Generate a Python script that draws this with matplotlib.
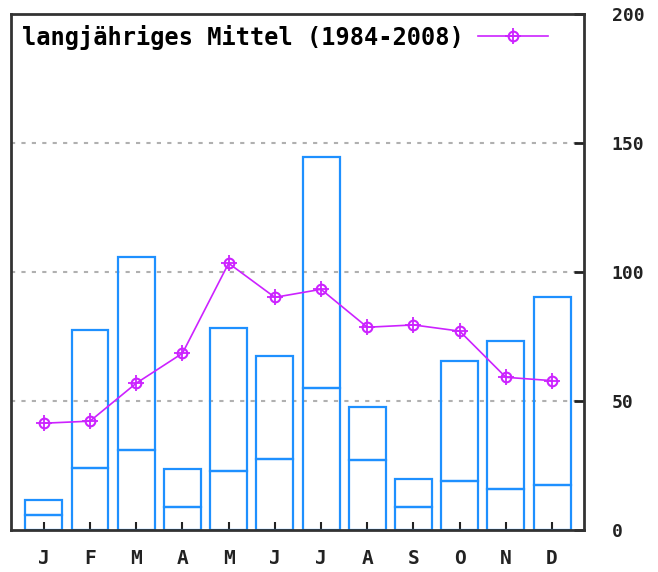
import numpy as np
import matplotlib.pyplot as plt
from matplotlib.legend_handler import HandlerTuple

months = ['J', 'F', 'M', 'A', 'M', 'J', 'J', 'A', 'S', 'O', 'N', 'D']
# Balken: unterer Anteil und Gesamthöhe
lower = [6, 24, 31, 9, 23, 27.5, 55, 27, 9, 19, 16, 17.5]
total = [11.5, 77.7, 105.7, 23.8, 78.5, 67.6, 144.5, 47.8, 19.9, 65.4, 73.1, 90.2]
# langjähriges Mittel
mittel = [41.4, 42.2, 56.9, 68.5, 103.4, 90.2, 93.3, 78.6, 79.5, 77.1, 59.2, 57.9]

blue = '#1e90ff'
purple = '#cc22ff'
font = {'family': 'DejaVu Sans Mono', 'weight': 'bold'}

fig = plt.figure(figsize=(6.58, 5.72), dpi=100)
ax = fig.add_axes([0.0167, 0.0734, 0.8708, 0.902])

x = np.arange(len(months))
upper = np.array(total) - np.array(lower)
ax.bar(x, lower, width=0.8, fill=False, edgecolor=blue, lw=1.6, zorder=2)
ax.bar(x, upper, bottom=lower, width=0.8, fill=False, edgecolor=blue, lw=1.6, zorder=2)

l1, = ax.plot(x, mittel, color=purple, lw=1.2, marker='o', ms=7, mfc='none',
              mec=purple, mew=1.5, zorder=3)
l2, = ax.plot(x, mittel, ls='none', marker='+', ms=11, mec=purple, mew=1.3, zorder=3)

for g in [50, 100, 150]:
    ax.axhline(g, color='#b0b0b0', lw=1.5, ls=(0, (2, 3)), zorder=1)

ax.set_xlim(-0.71, 11.69)
ax.set_ylim(0, 200)
ax.set_xticks(x)
ax.set_xticklabels(months, fontdict=font, fontsize=14)
ax.set_yticks([0, 50, 100, 150, 200])
ax.set_yticklabels(['0', '50', '100', '150', '200'], fontdict=font, fontsize=13, ha='left')
ax.yaxis.tick_right()
ax.tick_params(axis='y', direction='in', length=7, width=2, pad=20, colors='#222222')
ax.tick_params(axis='x', direction='in', length=6, width=1.5, pad=14, colors='#222222')
for s in ax.spines.values():
    s.set_linewidth(2)
    s.set_color('#333333')

ax.legend([(l1, l2)], ['langjähriges Mittel (1984-2008)'],
          handler_map={tuple: HandlerTuple(ndivide=1)},
          loc='upper left', frameon=False, markerfirst=False, handlelength=3.0,
          prop={'family': 'DejaVu Sans Mono', 'weight': 'bold', 'size': 17},
          borderaxespad=0.05, handletextpad=0.6)

fig.savefig('out.png', dpi=100)
